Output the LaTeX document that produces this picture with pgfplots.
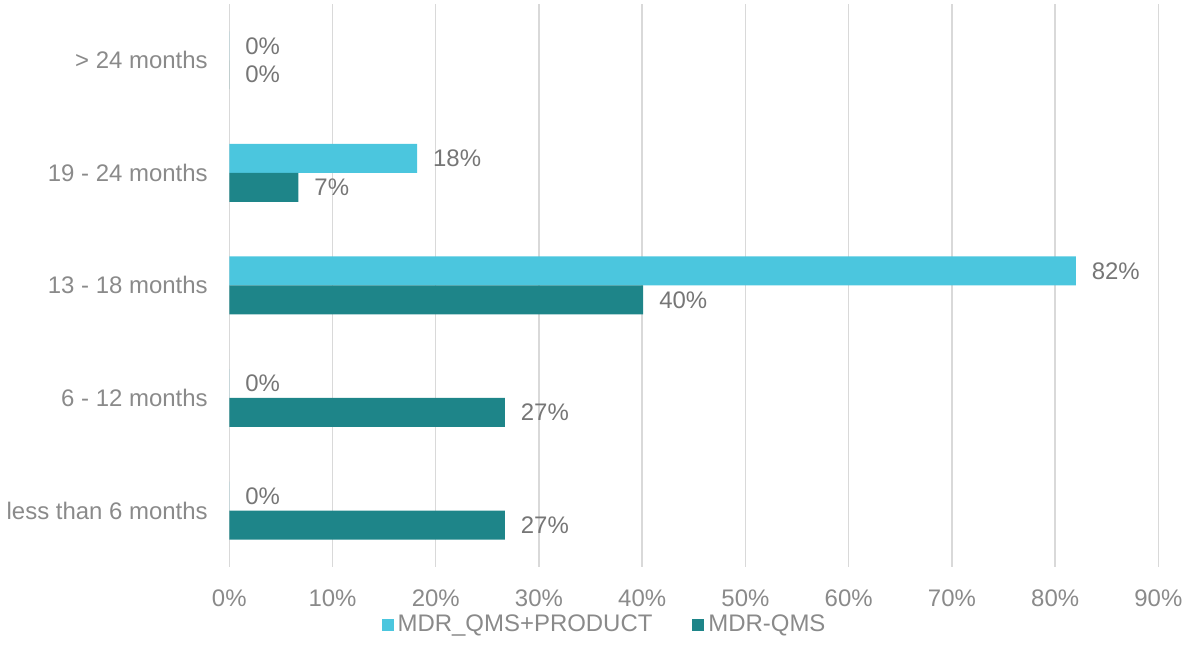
\documentclass[border=0pt]{standalone}
\usepackage{fontspec}
\setmainfont{Liberation Sans}
\usepackage{pgfplots}
\pgfplotsset{compat=1.18}
\definecolor{lightbar}{HTML}{4BC6DE}
\definecolor{darkbar}{HTML}{1E8589}
\definecolor{ticktxt}{HTML}{8A8A8A}
\definecolor{valtxt}{HTML}{767676}
\definecolor{gridc}{HTML}{D9D9D9}
\begin{document}
\begin{tikzpicture}
\begin{axis}[
    scale only axis,
    width=465.5pt, height=282pt,
    xbar, bar width=14.5pt,
    xmin=0, xmax=90, ymin=-0.5, ymax=4.5,
    xtick={0,10,...,90},
    xticklabel={\pgfmathprintnumber{\tick}\%},
    ytick={0,1,2,3,4},
    yticklabels={less than 6 months, 6 - 12 months, 13 - 18 months, 19 - 24 months, > 24 months},
    /pgf/number format/assume math mode=true,
    tick label style={font=\fontsize{12}{14}\selectfont, text=ticktxt},
    xticklabel style={yshift=-8pt},
    yticklabel style={xshift=-3pt},
    axis line style={draw=none},
    tick style={draw=none},
    xmajorgrids, grid style={gridc, line width=0.75pt},
    point meta=x,
    nodes near coords={\pgfmathprintnumber[fixed,precision=0]{\pgfplotspointmeta}\%},
    every node near coord/.append style={font=\fontsize{12}{14}\selectfont, text=valtxt, xshift=4.5pt},
    legend style={at={(0.405,-0.103)}, anchor=center, draw=none, fill=none, legend columns=2,
        font=\fontsize{12}{14}\selectfont, text=ticktxt,
        /tikz/every even column/.append style={column sep=18pt}},
    legend image code/.code={\fill[#1] (0pt,-3pt) rectangle (6pt,3pt);},
]
\addplot[fill=lightbar, draw=none, bar shift=7.25pt] coordinates {
    (0,0) (0,1) (82,2) (18.2,3) (0,4)
};
\addplot[fill=darkbar, draw=none, bar shift=-7.25pt] coordinates {
    (26.7,0) (26.7,1) (40.1,2) (6.7,3) (0,4)
};
\legend{MDR\_QMS+PRODUCT, MDR-QMS}
\end{axis}
\path (current axis.south) ++(0,-46.5pt) (current axis.north) ++(0,2pt);
\end{tikzpicture}
\end{document}
